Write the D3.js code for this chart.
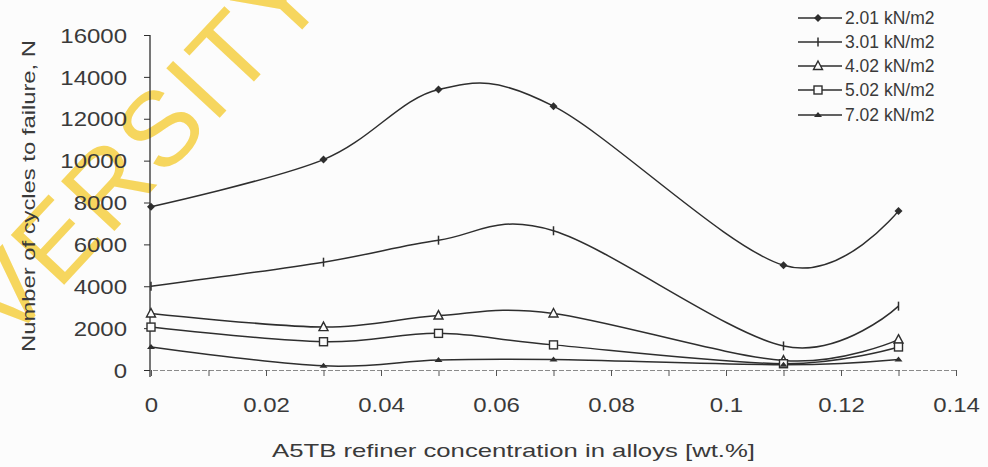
<!DOCTYPE html>
<html><head><meta charset="utf-8">
<script src="https://cdn.jsdelivr.net/npm/d3@7/dist/d3.min.js"></script>
<style>
html,body{margin:0;padding:0;background:#fcfcfc;}
svg{display:block;font-family:"Liberation Sans",Arial,sans-serif;}
</style></head>
<body>
<svg id="chart" width="988" height="467"></svg>
<script>
const concentrations = [0, 0.03, 0.05, 0.07, 0.11, 0.13];
const seriesNames = ["2.01 kN/m2", "3.01 kN/m2", "4.02 kN/m2", "5.02 kN/m2", "7.02 kN/m2"];
const s201 = [7800, 10050, 13400, 12600, 5000, 7600];
const s301 = [4000, 5150, 6200, 6650, 1150, 3050];
const s402 = [2700, 2050, 2600, 2700, 450, 1450];
const s502 = [2050, 1350, 1750, 1200, 300, 1100];
const s702 = [1100, 200, 480, 500, 250, 500];
const seriesValues = [s201, s301, s402, s502, s702];
const xTicks = [0, 0.02, 0.04, 0.06, 0.08, 0.1, 0.12, 0.14];
const xMinorTicks = [0, 0.01, 0.02, 0.03, 0.04, 0.05, 0.06, 0.07, 0.08, 0.09, 0.1, 0.11, 0.12, 0.13, 0.14];
const yTicks = [0, 2000, 4000, 6000, 8000, 10000, 12000, 14000, 16000];
const markerTypes = ["diamond", "vtick", "triangle", "square", "dot"];

const svg = d3.select("#chart");
const ink = "#2e2e2e";

// watermark
svg.append("text")
  .attr("transform", "translate(8,345) rotate(-47)")
  .attr("font-size", 106)
  .attr("font-family", "Liberation Sans, Arial, sans-serif")
  .attr("fill", "#f6d24e")
  .attr("opacity", 0.9)
  .attr("letter-spacing", 3)
  .text("VERSITY");

const x = d3.scaleLinear().domain([0, 0.14]).range([151, 956]);
const y = d3.scaleLinear().domain([0, 16000]).range([370, 35]);

// x axis (dashed baseline, minor ticks)
const gx = svg.append("g").attr("transform", `translate(0,${y(0)})`);
gx.call(d3.axisBottom(x).tickValues(xMinorTicks).tickSize(6).tickFormat(""));
gx.select(".domain").attr("stroke", "#8a8a8a").attr("stroke-dasharray", "5,2");
gx.selectAll(".tick line").attr("stroke", "#555");
const gxl = svg.append("g").attr("transform", `translate(0,${y(0)})`);
gxl.call(d3.axisBottom(x).tickValues(xTicks).tickSize(0).tickPadding(28)
  .tickFormat(d => d === 0 ? "0" : d3.format(".2~f")(d)));
gxl.select(".domain").remove();
gxl.selectAll("text").attr("font-size", 20).attr("fill", "#3a3a3a")
  .attr("font-family", "Liberation Sans, Arial, sans-serif")
  .attr("transform", "scale(1.2,1)");

// y axis
const gy = svg.append("g").attr("transform", `translate(${x(0) - 1},0)`);
gy.call(d3.axisLeft(y).tickValues(yTicks).tickSize(6).tickPadding(0).tickFormat(d => d));
gy.select(".domain").attr("stroke", ink).attr("stroke-width", 1.3).attr("d", `M0,${y(16000)}V${y(0)+7}`);
gy.selectAll(".tick line").attr("stroke", ink);
gy.selectAll("text").attr("font-size", 20).attr("fill", "#3a3a3a")
  .attr("font-family", "Liberation Sans, Arial, sans-serif")
  .attr("x", -23 / 1.2).attr("dy", "0.36em")
  .attr("transform", "scale(1.2,1)");

// axis titles
svg.append("text")
  .attr("transform", "translate(35,352) rotate(-90)")
  .attr("font-size", 18).attr("fill", "#3a3a3a")
  .attr("textLength", 312).attr("lengthAdjust", "spacingAndGlyphs")
  .text("Number of cycles to failure, N");
svg.append("text")
  .attr("x", 272).attr("y", 457)
  .attr("font-size", 19).attr("fill", "#3a3a3a")
  .attr("textLength", 483).attr("lengthAdjust", "spacingAndGlyphs")
  .text("A5TB refiner concentration in alloys [wt.%]");

// lines
const line = d3.line()
  .x((d, i) => x(concentrations[i]))
  .y(d => y(d))
  .curve(d3.curveCardinal.tension(0));

function drawMarker(g, type, cx, cy) {
  if (type === "diamond") {
    g.append("path").attr("d", `M${cx},${cy-4}L${cx+4},${cy}L${cx},${cy+4}L${cx-4},${cy}Z`).attr("fill", ink);
  } else if (type === "vtick") {
    g.append("path").attr("d", `M${cx},${cy-4.5}V${cy+4.5}`).attr("stroke", ink).attr("stroke-width", 1.5);
  } else if (type === "triangle") {
    g.append("path").attr("d", `M${cx},${cy-5}L${cx+4.5},${cy+3.5}L${cx-4.5},${cy+3.5}Z`)
      .attr("fill", "#fcfcfc").attr("stroke", ink).attr("stroke-width", 1.4);
  } else if (type === "square") {
    g.append("rect").attr("x", cx-4).attr("y", cy-4).attr("width", 8).attr("height", 8)
      .attr("fill", "#fcfcfc").attr("stroke", ink).attr("stroke-width", 1.4);
  } else {
    g.append("path").attr("d", `M${cx-4},${cy+2}L${cx},${cy-3}L${cx+4},${cy+2}Z`).attr("fill", ink);
  }
}

const gLines = svg.append("g");
seriesValues.forEach((vals, si) => {
  gLines.append("path").datum(vals).attr("d", line)
    .attr("fill", "none").attr("stroke", ink).attr("stroke-width", 1.5);
});
seriesValues.forEach((vals, si) => {
  vals.forEach((v, i) => drawMarker(gLines, markerTypes[si], x(concentrations[i]), y(v)));
});

// legend
const legY = [18, 42, 66, 90, 115];
seriesNames.forEach((name, si) => {
  const g = svg.append("g");
  g.append("path").attr("d", `M798,${legY[si]}H842`).attr("stroke", ink).attr("stroke-width", 1.5);
  drawMarker(g, markerTypes[si], 818, legY[si]);
  g.append("text").attr("x", 845).attr("y", legY[si]).attr("dy", "0.36em")
    .attr("font-size", 17.5).attr("fill", "#3a3a3a").text(name);
});
</script>
</body></html>
